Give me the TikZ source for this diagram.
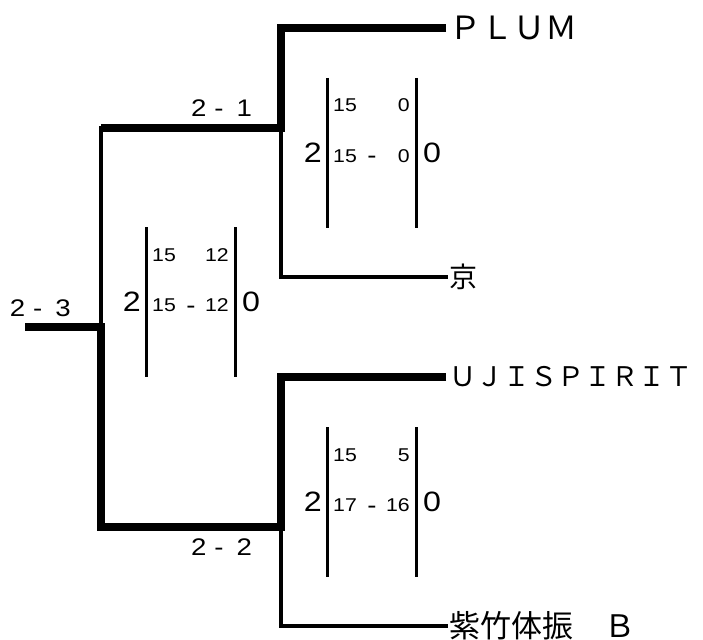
\documentclass[tikz,border=0pt]{standalone}
\usepackage{fontspec}
\setmainfont{Liberation Sans}[FakeStretch=1.15]
\newfontfamily\cjk{Noto Sans CJK JP}
\tikzset{
  win/.style={line width=7.5pt},
  lose/.style={line width=3.2pt,line cap=rect},
  bar/.style={line width=3pt},
  team/.style={anchor=west,inner sep=3pt},
  res/.style={inner sep=1pt,font=\fontsize{24}{26}\selectfont},
  bignum/.style={inner sep=1pt,font=\fontsize{28}{30}\selectfont},
  smallnum/.style={inner sep=1pt,font=\fontsize{18.5}{20}\selectfont},
}
\begin{document}
\begin{tikzpicture}[x=1pt,y=-1pt]
  \useasboundingbox (0,0) rectangle (703,639);
  % teams
  \node[team,font=\cjk\fontsize{32}{34}\selectfont] (plum) at (446,28) {ＰＬＵＭ};
  \node[team,font=\cjk\fontsize{28}{30}\selectfont] (kyo) at (446,277) {京};
  \node[team,font=\cjk\fontsize{27}{29}\selectfont] (uji) at (446,377) {ＵＪＩＳＰＩＲＩＴ};
  \node[team,font=\cjk\fontsize{31}{33}\selectfont] (shi) at (446,626) {紫竹体振　Ｂ};
  % junctions
  \coordinate (root) at (25,327);
  \coordinate (fin) at (101,327);
  \coordinate (semA) at (101,128);
  \coordinate (semB) at (101,527);
  \coordinate (qfA) at (281,128);
  \coordinate (qfB) at (281,527);
  % bracket
  \draw[lose] (qfA) |- (kyo.west);
  \draw[lose] (semA) -- (fin);
  \draw[lose] (qfB) |- (shi.west);
  \draw[win] (plum.west) -| (qfA)
    -- node[res,pos=0.33,above=7pt] (resA) {2\hspace{8pt}-\hspace{13pt}1} (semA);
  \draw[win] (uji.west) -| (qfB)
    -- node[res,pos=0.33,below=7pt] (resB) {2\hspace{8pt}-\hspace{13pt}2} (semB)
    -- (fin)
    -- node[res,pos=0.8,above=6pt] (resF) {2\hspace{8pt}-\hspace{13pt}3} (root);
  % set scores
  \foreach \bx/\by/\pa/\qa/\pb/\qb [count=\i] in {146/227/15/12/15/12,
    327/78/15/0/15/0, 327/427/15/5/17/16}{
    \draw[bar] (\bx,\by) -- (\bx,\by+150);
    \draw[bar] (\bx+89,\by) -- (\bx+89,\by+150);
    \node[bignum,anchor=base east] (setl\i) at (\bx-4,\by+84) {2};
    \node[bignum,anchor=base west] (setr\i) at (\bx+95,\by+84) {0};
    \node[smallnum,anchor=base west] (pa\i) at (\bx+5,\by+34) {\pa};
    \node[smallnum,anchor=base east] (qa\i) at (\bx+84,\by+34) {\qa};
    \node[smallnum,anchor=base west] (pb\i) at (\bx+5,\by+84) {\pb};
    \node[smallnum,anchor=base east] (qb\i) at (\bx+84,\by+84) {\qb};
    \node[res,anchor=base] (dash\i) at (\bx+45,\by+86) {-};
  }
\end{tikzpicture}
\end{document}
